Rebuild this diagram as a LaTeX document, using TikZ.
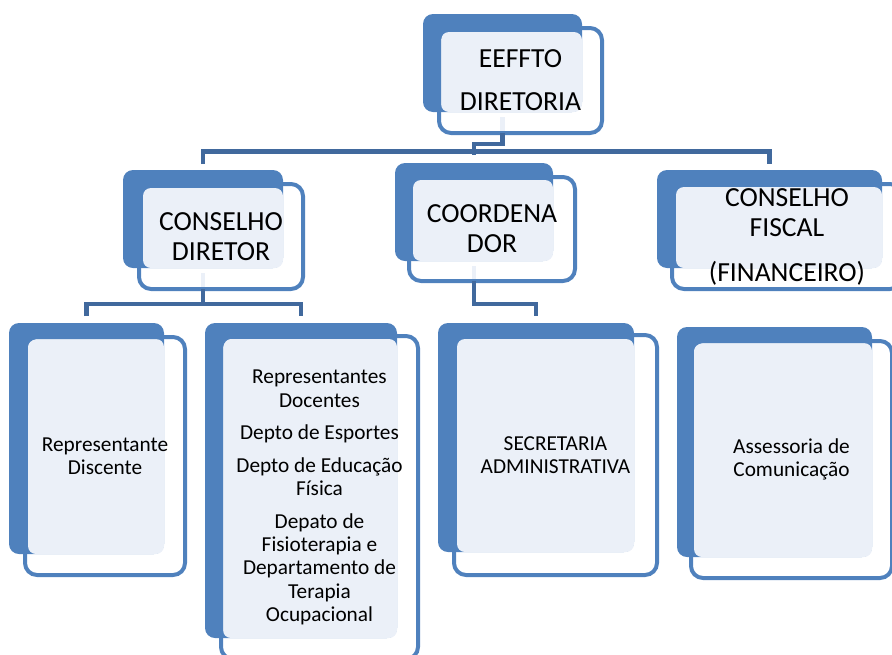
\documentclass[tikz,border=0pt]{standalone}
\usepackage{fontspec}
\setmainfont{Carlito}
\usetikzlibrary{fit}
\definecolor{boxblue}{HTML}{4F81BD}
\definecolor{boxlight}{HTML}{EBF0F8}
\definecolor{linkblue}{HTML}{41699D}

\begin{document}
\begin{tikzpicture}[x=1pt, y=-1pt,
		back/.style={fill=boxblue, rounded corners=10pt, inner sep=0pt, outer sep=0pt},
		light/.style={fill=boxlight, rounded corners=8pt, inner sep=0pt, outer sep=0pt},
		frame/.style={draw=boxblue, line width=4pt, rounded corners=12pt, inner sep=0pt, outer sep=0pt},
		big/.style={align=center, inner sep=0pt, font=\fontsize{27.6}{30}\selectfont},
		small/.style={align=center, inner sep=0pt, font=\fontsize{21.3}{23.2}\selectfont},
		link/.style={draw=linkblue, line width=4.5pt},
		stub/.style={draw=boxlight, line width=4.5pt},
	]
	\useasboundingbox (0,0) rectangle (892,654);
	% EEFFTO
	\node[back, fit={(423,14) (582,112)}] (eefB) {};
	\node[light, fit={(441,32) (582,112)}] (eefL) {};
	\node[frame, fit={(439,28) (602,133)}] (eef) {};
	% conselho diretor
	\node[back, fit={(123,170) (283,268)}] (cdirB) {};
	\node[light, fit={(143,188) (283,268)}] (cdirL) {};
	\node[frame, fit={(139,184) (303,289)}] (cdir) {};
	% coordenador
	\node[back, fit={(395,163) (553,261)}] (coordB) {};
	\node[light, fit={(413,180) (553,261)}] (coordL) {};
	\node[frame, fit={(409,177) (575,281)}] (coord) {};
	% conselho fiscal
	\node[back, fit={(657,170) (882,268)}] (cfisB) {};
	\node[light, fit={(676,187) (882,268)}] (cfisL) {};
	\node[frame, fit={(672,184) (902,289)}] (cfis) {};
	% representante discente
	\node[back, fit={(9,323) (164,554)}] (rdisB) {};
	\node[light, fit={(28,339) (164,554)}] (rdisL) {};
	\node[frame, fit={(25,337) (185,575)}] (rdis) {};
	% docentes e deptos
	\node[back, fit={(205,323) (397,638)}] (rdocB) {};
	\node[light, fit={(223,339) (397,638)}] (rdocL) {};
	\node[frame, fit={(221,336) (418,659)}] (rdoc) {};
	% secretaria
	\node[back, fit={(438,323) (634,552)}] (secB) {};
	\node[light, fit={(457,339) (634,552)}] (secL) {};
	\node[frame, fit={(454,335) (657,575)}] (sec) {};
	% assessoria
	\node[back, fit={(677,327) (872,557)}] (assB) {};
	\node[light, fit={(694,343) (872,557)}] (assL) {};
	\node[frame, fit={(691,341) (892,578)}] (ass) {};

	\draw[stub] ([yshift=-5pt]eefB.south) -- ([yshift=2pt]eefB.south |- eef.south);
	\draw[stub] ([yshift=-5pt]cdirB.south) -- ([yshift=2pt]cdirB.south |- cdir.south);
	\draw[stub] ([yshift=-5pt]coordB.south) -- ([yshift=2pt]coordB.south |- coord.south);

	\coordinate (bus) at (0,151.5);
	\coordinate (busL) at (0,304);
	\draw[link] (eefB.south |- eef.south) -- ++(0,11) -| ([yshift=8pt]coordB.north);
	\draw[link] ([yshift=6pt]cdirB.north) |- (cfisB.north |- bus) -- ([yshift=6pt]cfisB.north);
	\draw[link] (cdirB.south |- cdir.south) -- (cdirB.south |- busL);
	\draw[link] ([yshift=7pt]rdisB.north) |- (rdocB.north |- busL) -- ([yshift=7pt]rdocB.north);
	\draw[link] (coordB.south |- coord.south) |- (secB.north |- busL) -- ([yshift=7pt]secB.north);

	% texts
	\node[big] (eefT) at (eef.center) {EEFFTO\\[13pt]DIRETORIA};
	\node[big] (cdirT) at (cdir.center) {CONSELHO\\DIRETOR};
	\node[big] (coordT) at (coord.center) {COORDENA\\DOR};
	\node[big] (cfisT) at (cfis.center) {CONSELHO\\FISCAL\\[15pt](FINANCEIRO)};
	\node[small] (rdisT) at (rdis.center) {Representante\\Discente};
	\node[small] (rdocT) at (rdoc.center) {Representantes\\Docentes\\[9.5pt]Depto de Esportes\\[9.5pt]Depto de Educação\\Física\\[9.5pt]Depato de\\Fisioterapia e\\Departamento de\\Terapia\\Ocupacional};
	\node[small] (secT) at (sec.center) {SECRETARIA\\ADMINISTRATIVA};
	\node[small] (assT) at (ass.center) {Assessoria de\\Comunicação};
\end{tikzpicture}
\end{document}
